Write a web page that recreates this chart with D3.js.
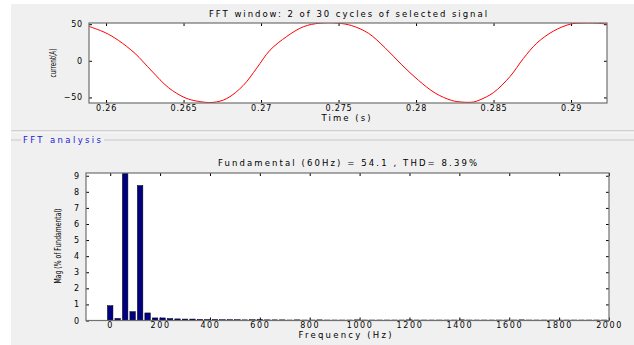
<!DOCTYPE html>
<html>
<head>
<meta charset="utf-8">
<script src="https://cdn.jsdelivr.net/npm/d3@7"></script>
<style>
body { margin: 0; background: #fff; }
svg { display: block; font-family: 'DejaVu Sans', sans-serif; }
</style>
</head>
<body>
<script>
// signal samples (time in s, current in A)
const sampleTime = [0.25890, 0.25994, 0.26079, 0.26187, 0.26295, 0.26402, 0.26510, 0.26596, 0.26690,
    0.26779, 0.26886, 0.26972, 0.27058, 0.27166, 0.27273, 0.27381, 0.27497, 0.27585, 0.27692, 0.27800,
    0.27908, 0.28015, 0.28123, 0.28230, 0.28295, 0.28370, 0.28413, 0.28499, 0.28607, 0.28692, 0.28779,
    0.28886, 0.28994, 0.29058, 0.29166, 0.29232];
const sampleCurrent = [47.0, 38.5, 28.0, 10.0, -14.0, -36.5, -50.5, -55.4, -56.8, -51.5, -33.5, -10.0,
    14.5, 33.2, 46.5, 51.4, 51.4, 48.0, 37.7, 17.8, -5.5, -26.5, -44.0, -54.1, -56.3, -56.3, -53.2,
    -43.5, -21.3, 3.0, 24.1, 40.5, 50.0, 51.4, 51.4, 50.0];

// harmonic spectrum (Hz, % of fundamental)
const harmFreq = [0, 30, 60, 90, 120, 150, 180, 210, 240, 270, 300, 330, 360, 390, 420, 450, 480, 510,
    540, 570, 600, 630, 660, 690, 720, 750, 780, 810, 840, 870, 900, 930, 960, 990, 1020, 1050, 1080,
    1110, 1140, 1170, 1200, 1230, 1260, 1290, 1320, 1350, 1380, 1410, 1440, 1470, 1500, 1530, 1560,
    1590, 1620, 1650, 1680, 1710, 1740, 1770, 1800, 1830, 1860, 1890, 1920, 1950, 1980];
const harmMag = [0.92, 0.13, 100, 0.55, 8.39, 0.47, 0.16, 0.16, 0.12, 0.10, 0.09, 0.09, 0.07, 0.06,
    0.06, 0.05, 0.05, 0.05, 0.04, 0.05, 0.06, 0.04, 0.04, 0.04, 0.03, 0.04, 0.03, 0.03, 0.04, 0.03,
    0.03, 0.03, 0.03, 0.04, 0.03, 0.03, 0.03, 0.03, 0.03, 0.03, 0.04, 0.03, 0.03, 0.03, 0.03, 0.03,
    0.03, 0.04, 0.03, 0.03, 0.03, 0.03, 0.03, 0.03, 0.03, 0.04, 0.03, 0.03, 0.03, 0.03, 0.03, 0.03,
    0.03, 0.03, 0.03, 0.03, 0.03];

const timeTicks = [0.26, 0.265, 0.27, 0.275, 0.28, 0.285, 0.29];
const currentTicks = [-50, 0, 50];
const freqTicks = [0, 200, 400, 600, 800, 1000, 1200, 1400, 1600, 1800, 2000];
const magTicks = [0, 1, 2, 3, 4, 5, 6, 7, 8, 9];

const width = 634, height = 345;

let svg = d3.select('body').append('svg')
    .attr('width', width)
    .attr('height', height);

// figure background
svg.append('rect').attr('width', width).attr('height', height).attr('fill', '#fff');
svg.append('rect').attr('x', 11).attr('y', 4).attr('width', width - 11).attr('height', height - 4).attr('fill', '#f0f0f0');

// panel separator + group box
svg.append('line').attr('x1', 11).attr('x2', width).attr('y1', 131).attr('y2', 131).attr('stroke', '#b4b4b4');
svg.append('line').attr('x1', 11).attr('x2', width).attr('y1', 132).attr('y2', 132).attr('stroke', '#fff');
svg.append('line').attr('x1', 11).attr('x2', 21).attr('y1', 140).attr('y2', 140).attr('stroke', '#c8c8c8');
svg.append('line').attr('x1', 104).attr('x2', width).attr('y1', 140).attr('y2', 140).attr('stroke', '#c8c8c8');
svg.append('text')
    .attr('x', 23).attr('y', 143)
    .attr('font-size', '8.5px')
    .attr('fill', '#1a1ad8')
    .attr('textLength', 78).attr('lengthAdjust', 'spacing')
    .text('FFT analysis');

function drawFrame(x, y, xTicks, yTicks, xFmt, yFmt, id, xPad, xSpacing) {
    const [x0, x1] = x.range(), [y1, y0] = y.range();
    svg.append('rect').attr('x', x0).attr('y', y0).attr('width', x1 - x0).attr('height', y1 - y0).attr('fill', '#fff');
    svg.append('clipPath').attr('id', id).append('rect')
        .attr('x', x0).attr('y', y0).attr('width', x1 - x0).attr('height', y1 - y0);

    let bottom = svg.append('g').attr('transform', `translate(0, ${y1})`)
        .call(d3.axisBottom(x).tickValues(xTicks).tickSize(-3).tickSizeOuter(0).tickPadding(xPad).tickFormat(xFmt));
    let topAx = svg.append('g').attr('transform', `translate(0, ${y0})`)
        .call(d3.axisTop(x).tickValues(xTicks).tickSize(-3).tickSizeOuter(0).tickFormat(''));
    let left = svg.append('g').attr('transform', `translate(${x0}, 0)`)
        .call(d3.axisLeft(y).tickValues(yTicks).tickSize(-3).tickSizeOuter(0).tickPadding(6).tickFormat(yFmt));
    let right = svg.append('g').attr('transform', `translate(${x1}, 0)`)
        .call(d3.axisRight(y).tickValues(yTicks).tickSize(-3).tickSizeOuter(0).tickFormat(''));

    [bottom, topAx, left, right].forEach(g => {
        g.select('.domain').remove();
        g.selectAll('line').attr('stroke', '#000');
        g.selectAll('text').attr('font-family', 'DejaVu Sans').attr('font-size', '8px')
            .attr('fill', '#000').attr('letter-spacing', '0.8px');
    });
    bottom.selectAll('text').attr('letter-spacing', xSpacing);
    return { x0, x1, y0, y1 };
}

function drawBox(b) {
    svg.append('rect').attr('x', b.x0).attr('y', b.y0).attr('width', b.x1 - b.x0).attr('height', b.y1 - b.y0)
        .attr('fill', 'none').attr('stroke', '#707070').attr('stroke-width', 1.2);
}

// ---- top: FFT window signal ----
const xTime = d3.scaleLinear().domain([0.25890, 0.29232]).range([89, 607]);
const yCur = d3.scaleLinear().domain([-57.6, 51.6]).range([103, 23]);
const topBox = drawFrame(xTime, yCur, timeTicks, currentTicks, d3.format('~g'), d3.format('d'), 'clipTop', 2, '0.8px');

const line = d3.line()
    .x(i => xTime(sampleTime[i]))
    .y(i => yCur(sampleCurrent[i]))
    .curve(d3.curveCatmullRom.alpha(0.5));

svg.append('path')
    .datum(sampleTime.map((d, i) => i))
    .attr('clip-path', 'url(#clipTop)')
    .attr('fill', 'none')
    .attr('stroke', '#ff0000')
    .attr('stroke-width', 1)
    .attr('d', line);
drawBox(topBox);

svg.append('text').attr('x', 348).attr('y', 16.5).attr('text-anchor', 'middle')
    .attr('font-size', '8.5px').attr('textLength', 278).attr('lengthAdjust', 'spacing')
    .text('FFT window: 2 of 30 cycles of selected signal');
svg.append('text').attr('x', 346).attr('y', 121).attr('text-anchor', 'middle')
    .attr('font-size', '8.5px').attr('textLength', 49).attr('lengthAdjust', 'spacing')
    .text('Time (s)');
svg.append('text').attr('transform', 'translate(55.5, 63) rotate(-90)').attr('text-anchor', 'middle')
    .attr('font-size', '9.5px').attr('textLength', 29).attr('lengthAdjust', 'spacingAndGlyphs')
    .text('current(A)');

// ---- bottom: spectrum ----
const xFreq = d3.scaleLinear().domain([-97, 2000]).range([86, 609]);
const yMag = d3.scaleLinear().domain([0, 9.17]).range([320.5, 173]);
const botBox = drawFrame(xFreq, yMag, freqTicks, magTicks, d3.format('d'), d3.format('d'), 'clipBot', 2, '1.6px');

const barW = xFreq(22) - xFreq(0);
svg.append('g').attr('clip-path', 'url(#clipBot)')
    .selectAll('rect').data(harmFreq).enter().append('rect')
    .attr('x', (d, i) => xFreq(d) - barW / 2)
    .attr('y', (d, i) => yMag(harmMag[i]))
    .attr('width', barW)
    .attr('height', (d, i) => yMag(0) - yMag(harmMag[i]))
    .attr('fill', '#000080')
    .attr('stroke', '#000')
    .attr('stroke-width', 0.5);
drawBox(botBox);

svg.append('text').attr('x', 347.5).attr('y', 165.5).attr('text-anchor', 'middle')
    .attr('font-size', '8.5px').attr('textLength', 259).attr('lengthAdjust', 'spacing')
    .text('Fundamental (60Hz) = 54.1 , THD= 8.39%');
svg.append('text').attr('x', 345).attr('y', 338).attr('text-anchor', 'middle')
    .attr('font-size', '8.5px').attr('textLength', 93).attr('lengthAdjust', 'spacing')
    .text('Frequency (Hz)');
svg.append('text').attr('transform', 'translate(60.5, 246) rotate(-90)').attr('text-anchor', 'middle')
    .attr('font-size', '9.5px').attr('textLength', 75).attr('lengthAdjust', 'spacingAndGlyphs')
    .text('Mag (% of Fundamental)');
</script>
</body>
</html>
